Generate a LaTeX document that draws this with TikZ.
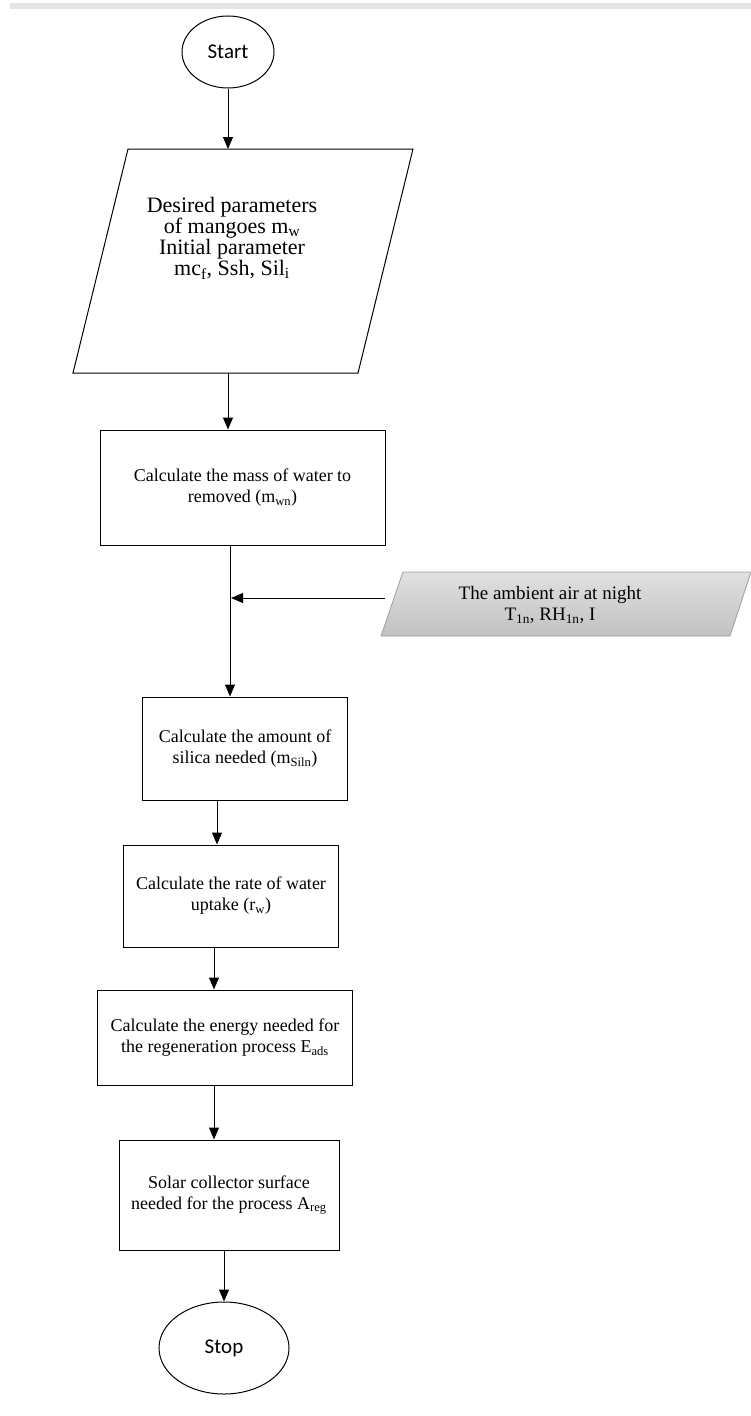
\documentclass[tikz,border=0pt]{standalone}
\usepackage{fontspec}
\setmainfont{Liberation Serif}
\newfontfamily\calib{Carlito}
\usetikzlibrary{shapes.geometric,arrows.meta}
\newcommand{\sbs}[1]{\textsubscript{#1}}
\begin{document}
\begin{tikzpicture}[x=1pt,y=-1pt,
  txt/.style={align=center, inner sep=0pt, font=\fontsize{19}{21}\selectfont},
  intxt/.style={align=center, inner sep=0pt, font=\fontsize{22}{19.5}\selectfont},
  proc/.style={draw, line width=1pt, rectangle, inner sep=0pt, align=center, font=\fontsize{18}{21}\selectfont},
  term/.style={draw, line width=1pt, ellipse, inner sep=0pt, font=\calib\fontsize{21}{23}\selectfont},
  arr/.style={-{Triangle[length=12pt,width=10pt]}, line width=1pt},
  ln/.style={line width=1pt}]
\useasboundingbox (0,0) rectangle (751,1416);
\fill[black!10] (10,3) rectangle (751,9);
% Start
\node[term, minimum width=92pt, minimum height=72pt] (start) at (228,52) {Start};
% input parallelogram
\coordinate (p1) at (128,149);
\coordinate (p2) at (413,149);
\coordinate (p3) at (358,373);
\coordinate (p4) at (73,373);
\draw[ln] (p1) -- (p2) -- (p3) -- (p4) -- cycle;
\node[intxt] (inp) at (232,238) {Desired parameters\\of mangoes m\sbs{w}\\Initial parameter\\mc\sbs{f}, Ssh, Sil\sbs{i}};
\coordinate (inpbot) at (228,373);
% boxes
\node[proc, minimum width=285pt, minimum height=115pt] (b2) at (242.5,487.5) {Calculate the mass of water to\\removed (m\sbs{wn})};
\node[proc, minimum width=205pt, minimum height=103pt] (b3) at (245,748.5) {Calculate the amount of\\silica needed (m\sbs{Siln})};
\node[proc, minimum width=215pt, minimum height=102pt] (b4) at (231,896) {Calculate the rate of water\\uptake (r\sbs{w})};
\node[proc, minimum width=255pt, minimum height=95pt] (b5) at (225,1037.5) {Calculate the energy needed for\\the regeneration process E\sbs{ads}};
\node[proc, minimum width=220pt, minimum height=110pt] (b6) at (229,1195) {Solar collector surface\\needed for the process A\sbs{reg}};
\node[term, minimum width=130pt, minimum height=92pt] (stop) at (224,1348) {Stop};
% ambient air (gray parallelogram)
\coordinate (g1) at (403,572);
\coordinate (g2) at (751,572);
\coordinate (g3) at (730,636);
\coordinate (g4) at (381,636);
\shade[top color=black!12, bottom color=black!24] (g1) -- (g2) -- (g3) -- (g4) -- cycle;
\draw[black!38, line width=0.8pt] (g1) -- (g2) -- (g3) -- (g4) -- cycle;
\node[txt] (air) at (550,605) {The ambient air at night\\T\sbs{1n}, RH\sbs{1n}, I};
% connectors
\coordinate (airin) at (385,598);
\coordinate (join) at (231,598);
\draw[arr] (start.south -| 228,0) -- (p1 -| 228,0);
\draw[arr] (inpbot) -- (b2.north -| inpbot);
\draw[arr] (b2.south -| 230,0) -- (b3.north -| 230,0);
\draw[arr] (airin) -- (join);
\draw[arr] (b3.south -| 217,0) -- (b4.north -| 217,0);
\draw[arr] (b4.south -| 214,0) -- (b5.north -| 214,0);
\draw[arr] (b5.south -| 214,0) -- (b6.north -| 214,0);
\draw[arr] (b6.south -| 224,0) -- (stop.north);
\end{tikzpicture}
\end{document}
